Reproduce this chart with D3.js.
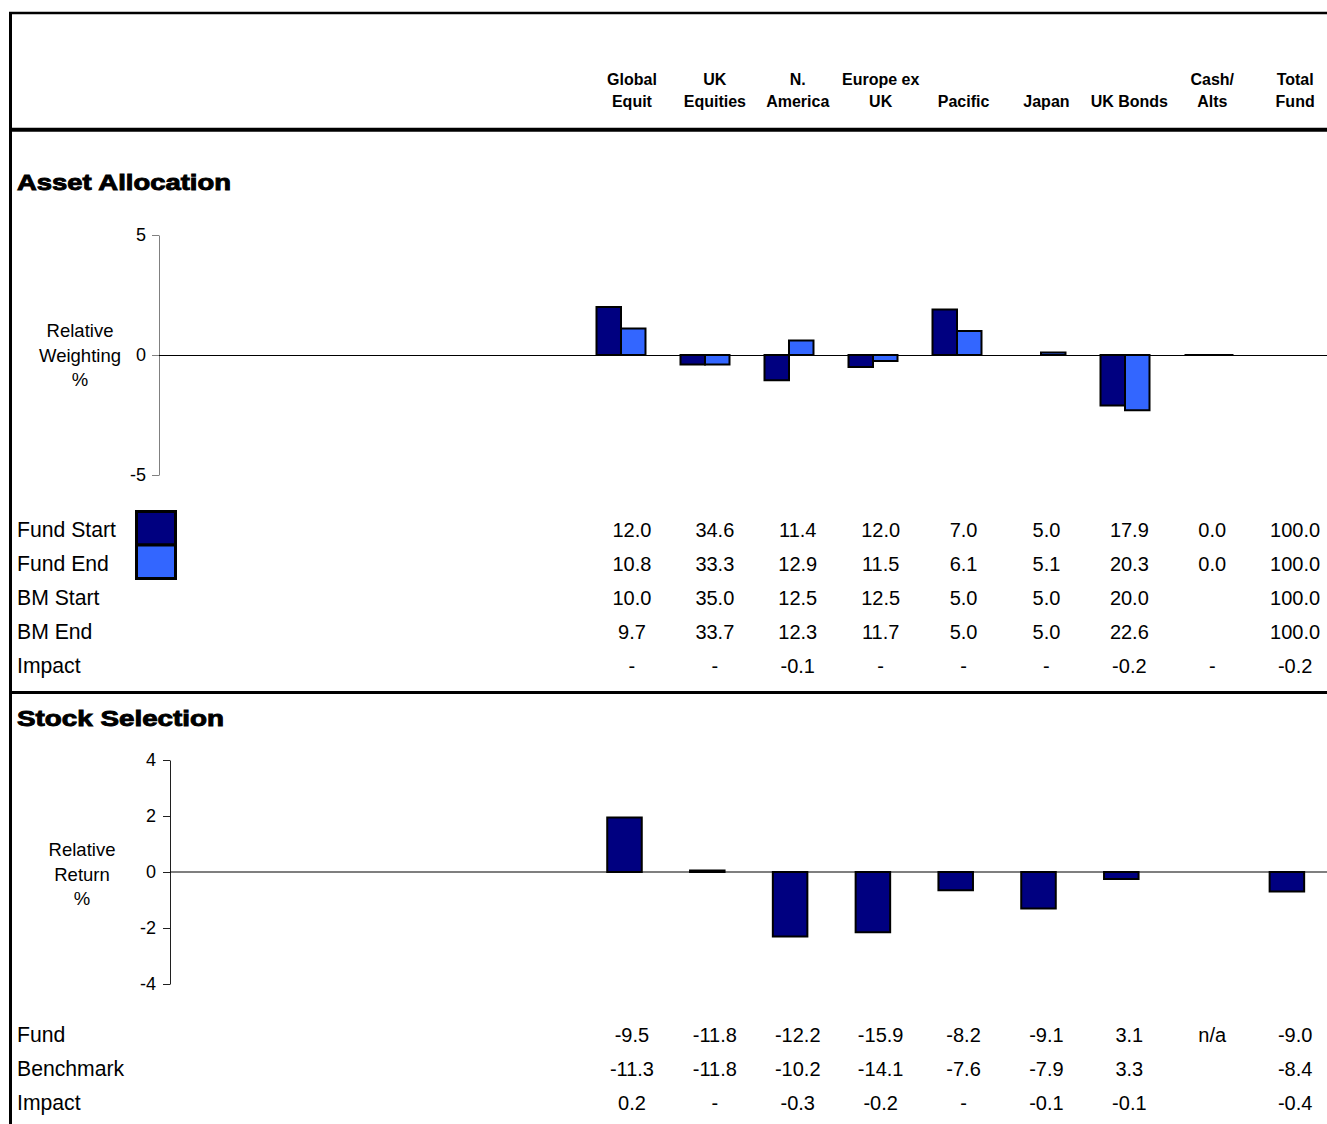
<!DOCTYPE html>
<html>
<head>
<meta charset="utf-8">
<script src="https://cdn.jsdelivr.net/npm/d3@7"></script>
<style>
  body { margin: 0; background: #fff; }
  svg { display: block; }
  text { font-family: "Liberation Sans", Arial, sans-serif; fill: #000; }
</style>
</head>
<body>
<svg id="chart" width="1327" height="1124"></svg>
<script>
// ---- data -------------------------------------------------------------
const categories = ["Global Equit", "UK Equities", "N. America", "Europe ex UK",
                    "Pacific", "Japan", "UK Bonds", "Cash/Alts", "Total Fund"];
const headerTop    = ["Global", "UK", "N.", "Europe ex", "", "", "", "Cash/", "Total"];
const headerBottom = ["Equit", "Equities", "America", "UK", "Pacific", "Japan", "UK Bonds", "Alts", "Fund"];

// Asset allocation: relative weighting (fund minus benchmark), %
const relWeightStart = [2.0, -0.4, -1.05, -0.5, 1.9, null, -2.1, 0.0, null];
const relWeightEnd   = [1.1, -0.4, 0.6, -0.25, 1.0, 0.1, -2.3, 0.0, null];

const aaRowLabels = ["Fund Start", "Fund End", "BM Start", "BM End", "Impact"];
const fundStart = ["12.0", "34.6", "11.4", "12.0", "7.0", "5.0", "17.9", "0.0", "100.0"];
const fundEnd   = ["10.8", "33.3", "12.9", "11.5", "6.1", "5.1", "20.3", "0.0", "100.0"];
const bmStart   = ["10.0", "35.0", "12.5", "12.5", "5.0", "5.0", "20.0", "", "100.0"];
const bmEnd     = ["9.7", "33.7", "12.3", "11.7", "5.0", "5.0", "22.6", "", "100.0"];
const aaImpact  = ["-", "-", "-0.1", "-", "-", "-", "-0.2", "-", "-0.2"];

// Stock selection: relative return, %
const relReturn = [1.95, 0.05, -2.3, -2.15, -0.65, -1.3, -0.25, null, -0.7];

const ssRowLabels = ["Fund", "Benchmark", "Impact"];
const ssFund      = ["-9.5", "-11.8", "-12.2", "-15.9", "-8.2", "-9.1", "3.1", "n/a", "-9.0"];
const ssBenchmark = ["-11.3", "-11.8", "-10.2", "-14.1", "-7.6", "-7.9", "3.3", "", "-8.4"];
const ssImpact    = ["0.2", "-", "-0.3", "-0.2", "-", "-0.1", "-0.1", "", "-0.4"];

const aaTicks = [-5, 0, 5];
const ssTicks = [-4, -2, 0, 2, 4];

// ---- layout -----------------------------------------------------------
const W = 1327, H = 1124;
const svg = d3.select("#chart");
const DARK = "#000080", LIGHT = "#3366FF";
const FONT = "'Liberation Sans', Arial, sans-serif";

// column centres for the header and the tables
const colScale = d3.scaleBand().domain(categories).range([590.5, 1336.6]);
const colX = c => colScale(c) + colScale.bandwidth() / 2;

// bars are drawn as closed paths so zero-height bars still show their outline
function barPath(x, w, y0, y1) {
  const p = d3.path();
  p.moveTo(x, y0); p.lineTo(x + w, y0); p.lineTo(x + w, y1); p.lineTo(x, y1); p.closePath();
  return p.toString();
}

// ---- frame ------------------------------------------------------------
const frame = svg.append("g");
frame.append("line").attr("x1", 9).attr("x2", W).attr("y1", 13).attr("y2", 13)
  .attr("stroke", "#000").attr("stroke-width", 2.5);
frame.append("line").attr("x1", 10.5).attr("x2", 10.5).attr("y1", 12).attr("y2", H)
  .attr("stroke", "#000").attr("stroke-width", 3);
frame.append("line").attr("x1", 9).attr("x2", W).attr("y1", 129.7).attr("y2", 129.7)
  .attr("stroke", "#000").attr("stroke-width", 4);
frame.append("line").attr("x1", 9).attr("x2", W).attr("y1", 692.5).attr("y2", 692.5)
  .attr("stroke", "#000").attr("stroke-width", 3);

// ---- header -----------------------------------------------------------
const header = svg.append("g").style("font-weight", "bold").style("font-size", "16px")
  .attr("text-anchor", "middle");
header.selectAll("text.top").data(categories).join("text").attr("class", "top")
  .attr("x", colX).attr("y", 85).text((d, i) => headerTop[i]);
header.selectAll("text.bottom").data(categories).join("text").attr("class", "bottom")
  .attr("x", colX).attr("y", 107).text((d, i) => headerBottom[i]);

// section titles (heavy face emulated by widening bold glyphs)
function sectionTitle(txt, y, width) {
  svg.append("text").attr("x", 17).attr("y", y)
    .style("font-size", "22px").style("font-weight", "bold")
    .attr("stroke", "#000").attr("stroke-width", 0.9)
    .attr("textLength", width).attr("lengthAdjust", "spacingAndGlyphs")
    .text(txt);
}
sectionTitle("Asset Allocation", 189.5, 214);
sectionTitle("Stock Selection", 725.5, 207);

// multi-line axis caption
function axisCaption(lines, cx, y0, step) {
  const t = svg.append("text").attr("text-anchor", "middle").style("font-size", "18.5px");
  lines.forEach((l, i) => t.append("tspan").attr("x", cx).attr("y", y0 + i * step).text(l));
}

function styleAxis(g, colour) {
  g.select(".domain").attr("stroke", colour);
  g.selectAll(".tick line").attr("stroke", colour);
  g.selectAll(".tick text").style("font-size", "18px").style("font-family", FONT).attr("fill", "#000");
}

// ---- asset allocation chart ------------------------------------------
const yAA = d3.scaleLinear().domain([-5, 5]).range([475, 235]);
const xAA = d3.scaleBand().domain(categories).range([579, 1335])
  .paddingInner(0.4167).paddingOuter(0.2083);
const xAAsub = d3.scaleBand().domain(["start", "end"]).range([0, xAA.bandwidth()]);
const aaAxisX = 159;

const aaAxis = svg.append("g").attr("transform", `translate(${aaAxisX},0)`)
  .call(d3.axisLeft(yAA).tickValues(aaTicks).tickSize(7).tickSizeOuter(0).tickPadding(6)
    .tickFormat(d => String(d)));
styleAxis(aaAxis, "#808080");

svg.append("line").attr("x1", aaAxisX).attr("x2", W).attr("y1", yAA(0) + 0.5).attr("y2", yAA(0) + 0.5)
  .attr("stroke", "#000").attr("stroke-width", 1.2);

axisCaption(["Relative", "Weighting", "%"], 80, 337, 24.5);

const aaBars = [];
categories.forEach((c, i) => {
  aaBars.push({ c, key: "start", v: relWeightStart[i], fill: DARK });
  aaBars.push({ c, key: "end", v: relWeightEnd[i], fill: LIGHT });
});
svg.append("g").selectAll("path").data(aaBars.filter(d => d.v !== null)).join("path")
  .attr("d", d => barPath(xAA(d.c) + xAAsub(d.key), xAAsub.bandwidth(), yAA(0), yAA(d.v)))
  .attr("fill", d => d.fill).attr("stroke", "#000").attr("stroke-width", 2)
  .attr("stroke-linejoin", "miter");

// legend swatches beside the first two rows
const legend = svg.append("g");
legend.append("rect").attr("x", 136.5).attr("y", 511.5).attr("width", 39).attr("height", 33.5)
  .attr("fill", DARK).attr("stroke", "#000").attr("stroke-width", 3);
legend.append("rect").attr("x", 136.5).attr("y", 545).attr("width", 39).attr("height", 33.5)
  .attr("fill", LIGHT).attr("stroke", "#000").attr("stroke-width", 3);

// table rows
function tableRows(labels, rows, y0, step) {
  const g = svg.append("g").style("font-size", "20px");
  labels.forEach((lab, r) => {
    const y = y0 + r * step;
    g.append("text").attr("x", 17).attr("y", y).style("font-size", "21.2px").text(lab);
    g.selectAll(null).data(categories).join("text")
      .attr("x", colX).attr("y", y).attr("text-anchor", "middle")
      .text((d, i) => rows[r][i]);
  });
}
tableRows(aaRowLabels, [fundStart, fundEnd, bmStart, bmEnd, aaImpact], 537, 33.9);

// ---- stock selection chart -------------------------------------------
const ySS = d3.scaleLinear().domain([-4, 4]).range([984, 760]);
const xSS = d3.scaleBand().domain(categories).range([583.1, 1328.3])
  .paddingInner(0.583).paddingOuter(0.2915);
const ssAxisX = 170;

const ssAxis = svg.append("g").attr("transform", `translate(${ssAxisX},0)`)
  .call(d3.axisLeft(ySS).tickValues(ssTicks).tickSize(7).tickSizeOuter(0).tickPadding(7)
    .tickFormat(d => String(d)));
styleAxis(ssAxis, "#202020");

svg.append("line").attr("x1", ssAxisX).attr("x2", W).attr("y1", ySS(0)).attr("y2", ySS(0))
  .attr("stroke", "#000").attr("stroke-width", 1.2);

axisCaption(["Relative", "Return", "%"], 82, 856, 24.5);

svg.append("g").selectAll("path")
  .data(categories.map((c, i) => ({ c, v: relReturn[i] })).filter(d => d.v !== null))
  .join("path")
  .attr("d", d => barPath(xSS(d.c), xSS.bandwidth(), ySS(0), ySS(d.v)))
  .attr("fill", DARK).attr("stroke", "#000").attr("stroke-width", 2);

tableRows(ssRowLabels, [ssFund, ssBenchmark, ssImpact], 1041.5, 34);
</script>
</body>
</html>
